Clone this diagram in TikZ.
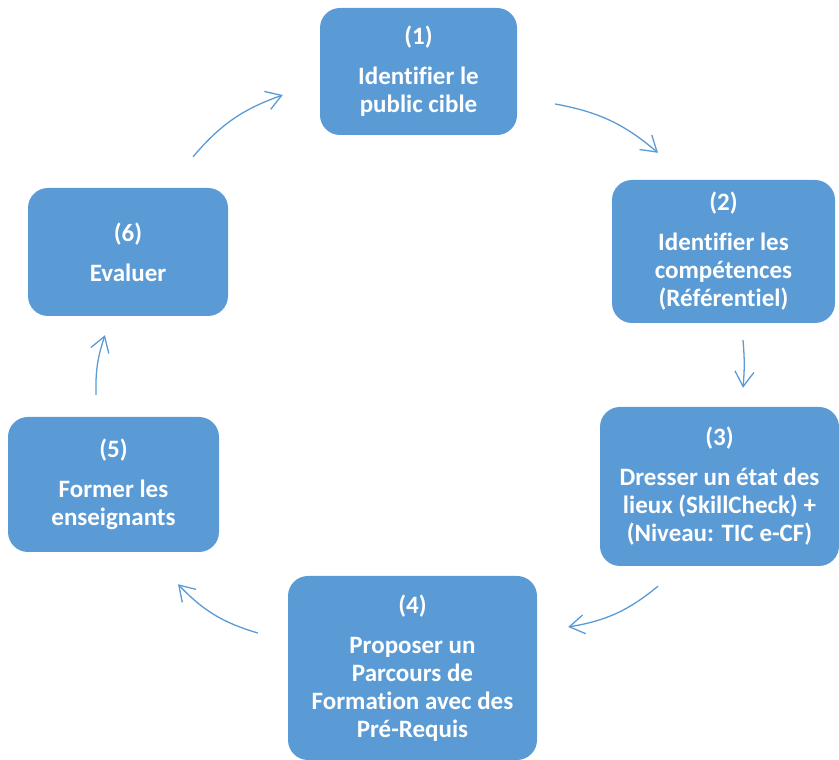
\documentclass[tikz,border=0pt]{standalone}
\usepackage{fontspec}
\setmainfont{Carlito}[Ligatures=NoCommon,RawFeature=-liga]
\usetikzlibrary{arrows.meta}
\definecolor{stepblue}{HTML}{5B9BD5}
\tikzset{
  stepbox/.style={fill=stepblue, rounded corners=20pt, inner sep=0pt, align=center,
    text=white, font=\fontsize{25}{28}\selectfont\bfseries},
  cyc/.style={draw=stepblue, line width=1.3pt, -{Straight Barb[length=15pt,width=19pt]}}
}
\begin{document}
\begin{tikzpicture}[x=1pt,y=1pt]
  \useasboundingbox (0,0) rectangle (839,760);

  \node[stepbox, minimum width=197pt, minimum height=127pt] (n1) at (418.5,688.5)
    {(1)\\[12pt]Identifier le\\public cible};
  \node[stepbox, minimum width=223pt, minimum height=143pt] (n2) at (723.5,508.5)
    {(2)\\[12pt]Identifier les\\compétences\\(Référentiel)};
  \node[stepbox, minimum width=239pt, minimum height=159pt] (n3) at (719.5,273.5)
    {(3)\\[12pt]Dresser un état des\\lieux (SkillCheck) +\\(Niveau: TIC e-CF)};
  \node[stepbox, minimum width=249pt, minimum height=184pt] (n4) at (412.5,92)
    {(4)\\[12pt]Proposer un\\Parcours de\\Formation avec des\\Pré-Requis};
  \node[stepbox, minimum width=211pt, minimum height=135pt] (n5) at (113.5,275.5)
    {(5)\\[12pt]Former les\\enseignants};
  \node[stepbox, minimum width=200pt, minimum height=128pt] (n6) at (128,508)
    {(6)\\[12pt]Evaluer};

  \draw[cyc] ([shift={(38,-32.5)}]n1.east) to[bend left=15] ([shift={(-65.5,27)}]n2.north);
  \draw[cyc] ([shift={(19.5,-17)}]n2.south) to[bend left=5] ([shift={(23.5,19)}]n3.north);
  \draw[cyc] ([shift={(-61.5,-20)}]n3.south) to[bend left=15] ([shift={(31,41)}]n4.east);
  \draw[cyc] ([shift={(-30,35)}]n4.west) to[bend left=15] ([shift={(64.5,-32)}]n5.south);
  \draw[cyc] ([shift={(-17.5,22)}]n5.north) to[bend left=10] ([shift={(-23,-19)}]n6.south);
  \draw[cyc] ([shift={(65,31)}]n6.north) to[bend left=15] ([shift={(-37,-23.5)}]n1.west);
\end{tikzpicture}
\end{document}
